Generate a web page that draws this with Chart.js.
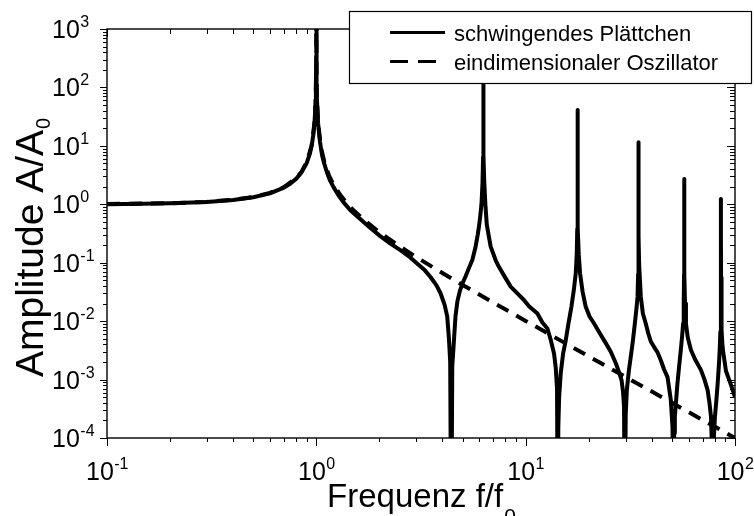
<!DOCTYPE html>
<html>
<head>
<meta charset="utf-8">
<title>Amplitude A/A0</title>
<script src="https://cdn.jsdelivr.net/npm/chart.js@4.4.1/dist/chart.umd.min.js"></script>
<style>
  html, body { margin: 0; padding: 0; background: #fff; }
  #wrap { width: 754px; height: 516px; }
</style>
</head>
<body>
<div id="wrap"><canvas id="chart" width="754" height="516"></canvas></div>
<script>
// Values (f/f0 and A/A0)
var plateFreq = [
  0.1, 0.15, 0.2, 0.3, 0.4, 0.5, 0.6, 0.7, 0.75, 0.8, 0.85, 0.9, 0.93, 0.95, 0.97, 0.98, 0.99, 0.995, 0.998, 1.0,
  1.002, 1.005, 1.01, 1.02, 1.04, 1.065, 1.09, 1.124, 1.16, 1.21, 1.28, 1.35, 1.45, 1.62, 1.8, 2.02, 2.25, 2.52,
  2.8, 3.03, 3.3, 3.51, 3.75, 3.92, 4.1, 4.22, 4.3, 4.36, 4.41,
  4.46, 4.52, 4.62, 4.72, 4.85, 5.0, 5.16, 5.35, 5.56, 5.75, 5.9, 5.98, 6.06, 6.15, 6.22, 6.26, 6.275, 6.28,
  6.285, 6.3, 6.34, 6.42, 6.52, 6.8, 7.19, 7.45, 8.0, 8.48, 9.2, 9.81, 10.37, 11.38, 12.02, 12.7, 13.17, 13.66,
  13.92, 14.12, 14.22, 14.27,
  14.32, 14.45, 14.71, 15.1, 15.54, 16.0, 16.54, 17.0, 17.35, 17.54, 17.64, 17.69, 17.7,
  17.71, 17.78, 17.93, 18.19, 18.7, 19.36, 20.2, 21.22, 22.6, 24.14, 25.5, 26.96, 28.0, 28.71, 29.2, 29.51, 29.8,
  30.05, 30.43, 31.1, 31.8, 32.5, 33.23, 33.8, 34.23, 34.45, 34.56, 34.59, 34.6,
  34.61, 34.68, 34.85, 35.5, 36.3, 37.5, 38.5, 39.6, 41.1, 42.7, 44.3, 45.8, 47.6, 49.35, 50.3, 50.8,
  51.2, 51.6, 53.1, 54.1, 55.1, 56.0, 56.5, 56.9, 57.1, 57.18, 57.2,
  57.22, 57.35, 57.7, 58.3, 59.5, 61.6, 64.5, 68.8, 71.5, 74.0, 75.5, 76.8, 77.5, 77.9,
  78.4, 80.2, 81.5, 82.65, 83.7, 84.5, 85.1, 85.45, 85.62, 85.68, 85.7,
  85.72, 85.8, 86.0, 86.5, 87.3, 88.9, 90.55, 93.9, 97, 100
];
var plateAmp = [
  1.0, 1.02, 1.04, 1.09, 1.18, 1.32, 1.54, 1.93, 2.25, 2.72, 3.55, 5.1, 7.2, 10, 16.5, 24.5, 49, 97, 240, 3000,
  240, 97, 48, 24, 12, 6.9, 5.0, 3.5, 2.6, 1.95, 1.4, 1.08, 0.8, 0.56, 0.4, 0.285, 0.215, 0.164,
  0.124, 0.097, 0.074, 0.057, 0.041, 0.03, 0.019, 0.012, 0.005, 0.002, 0.000001,
  0.0017, 0.0035, 0.012, 0.022, 0.033, 0.045, 0.058, 0.08, 0.111, 0.18, 0.3, 0.41, 0.6, 1.0, 2.3, 6.5, 26, 600,
  28, 7, 2.5, 1.0, 0.45, 0.19, 0.11, 0.085, 0.055, 0.039, 0.029, 0.023, 0.018, 0.0135, 0.0095, 0.0075, 0.0048, 0.0028,
  0.0016, 0.0007, 0.0002, 0.000001,
  0.00015, 0.0005, 0.0013, 0.0028, 0.0047, 0.009, 0.0176, 0.035, 0.066, 0.14, 0.38, 2.3, 41,
  3.2, 0.4, 0.14, 0.066, 0.032, 0.0176, 0.012, 0.0091, 0.0062, 0.0042, 0.003, 0.0019, 0.0013, 0.00098, 0.0006, 0.00034, 0.000001,
  0.00025, 0.00066, 0.0014, 0.0025, 0.0045, 0.0091, 0.016, 0.026, 0.064, 0.24, 1.0, 11.5,
  2.3, 0.29, 0.09, 0.026, 0.0135, 0.009, 0.0062, 0.0045, 0.0036, 0.0029, 0.0021, 0.0015, 0.0011, 0.00045, 0.00015, 0.000001,
  0.00012, 0.00023, 0.00086, 0.0017, 0.0032, 0.006, 0.0091, 0.021, 0.064, 0.32, 2.7,
  0.5, 0.067, 0.02, 0.0091, 0.0052, 0.0032, 0.0022, 0.00145, 0.001, 0.00066, 0.0004, 0.00023, 0.00008, 0.000001,
  0.00005, 0.00023, 0.00045, 0.00086, 0.0017, 0.0032, 0.0065, 0.015, 0.05, 0.2, 1.23,
  0.28, 0.056, 0.019, 0.007, 0.0035, 0.0022, 0.0014, 0.00098, 0.0007, 0.0005
];
var oscFreq = [
  0.1, 0.2, 0.3, 0.4, 0.5, 0.6, 0.7, 0.8, 0.85, 0.9, 0.95, 0.98, 0.99, 0.995, 0.998, 1.0,
  1.002, 1.005, 1.01, 1.02, 1.05, 1.1, 1.15, 1.2, 1.3, 1.4, 1.5, 1.7, 2, 2.5, 3, 4, 5, 7, 10, 15, 20, 30, 50, 70, 100
];
var oscAmp = [
  1.0101, 1.0417, 1.0989, 1.1905, 1.3333, 1.5625, 1.9608, 2.7778, 3.604, 5.263, 10.26, 25.25, 50.25, 100.25, 250.25, 5000,
  249.75, 99.75, 49.75, 24.75, 9.756, 4.762, 3.101, 2.273, 1.449, 1.042, 0.8, 0.529, 0.3333, 0.1905, 0.125, 0.0667,
  0.0417, 0.0208, 0.0101, 0.00446, 0.0025, 0.00111, 0.0004, 0.000204, 0.0001
];
var xTickExp = [-1, 0, 1, 2];
var yTickExp = [-4, -3, -2, -1, 0, 1, 2, 3];
var legendLabels = ['schwingendes Plättchen', 'eindimensionaler Oszillator'];
var xTitle = 'Frequenz f/f';
var yTitle = 'Amplitude A/A';
var titleSub = '0';

var FONT = '"Liberation Sans", Arial, Helvetica, sans-serif';

function toPoints(xs, ys) {
  return xs.map(function (x, i) { return { x: x, y: ys[i] }; });
}

// "10" with a raised exponent; x is the left edge or the centre
function drawPow(ctx, x, y, exp, centre) {
  var sup = String(exp);
  ctx.font = '25px ' + FONT;
  var wb = ctx.measureText('10').width;
  ctx.font = '16px ' + FONT;
  var ws = ctx.measureText(sup).width;
  var x0 = centre ? x - (wb + ws) / 2 : x;
  ctx.font = '25px ' + FONT;
  ctx.fillText('10', x0, y);
  ctx.font = '16px ' + FONT;
  ctx.fillText(sup, x0 + wb + 0.5, y - 11);
}

var axesPlugin = {
  id: 'axesPlugin',
  afterDatasetsDraw: function (chart) {
    var ctx = chart.ctx, a = chart.chartArea;
    var xs = chart.scales.x, ys = chart.scales.y;
    ctx.save();
    ctx.strokeStyle = '#000';
    ctx.fillStyle = '#000';
    ctx.lineWidth = 1.4;
    ctx.strokeRect(a.left, a.top, a.right - a.left, a.bottom - a.top);

    // tick marks: bottom/left outward, top/right inward
    ctx.lineWidth = 1;
    ctx.beginPath();
    xTickExp.forEach(function (e) {
      var dec = Math.pow(10, e);
      for (var k = 1; k <= 9; k++) {
        var v = k * dec;
        if (v > xs.max * 1.0001) break;
        var px = Math.round(xs.getPixelForValue(v)) + 0.5;
        ctx.moveTo(px, a.bottom); ctx.lineTo(px, a.bottom + (k === 1 ? 8 : 4));
        ctx.moveTo(px, a.top); ctx.lineTo(px, a.top + (k === 1 ? 8 : 5));
      }
    });
    yTickExp.forEach(function (e) {
      var dec = Math.pow(10, e);
      for (var k = 1; k <= 9; k++) {
        var v = k * dec;
        if (v > ys.max * 1.0001) break;
        var py = Math.round(ys.getPixelForValue(v)) + 0.5;
        ctx.moveTo(a.left, py); ctx.lineTo(a.left - (k === 1 ? 7 : 4), py);
        ctx.moveTo(a.right, py); ctx.lineTo(a.right - (k === 1 ? 8 : 5), py);
      }
    });
    ctx.stroke();

    // tick labels
    ctx.textAlign = 'left';
    ctx.textBaseline = 'alphabetic';
    xTickExp.forEach(function (e) {
      drawPow(ctx, xs.getPixelForValue(Math.pow(10, e)), a.bottom + 42, e, true);
    });
    yTickExp.forEach(function (e) {
      drawPow(ctx, 52, ys.getPixelForValue(Math.pow(10, e)) + 9, e, false);
    });

    // x title
    ctx.font = '33px ' + FONT;
    var wm = ctx.measureText(xTitle).width;
    ctx.font = '21px ' + FONT;
    var wsub = ctx.measureText(titleSub).width;
    var tx = (a.left + a.right) / 2 - (wm + wsub) / 2;
    ctx.font = '33px ' + FONT;
    ctx.fillText(xTitle, tx, 507);
    ctx.font = '21px ' + FONT;
    ctx.fillText(titleSub, tx + wm + 1, 523);

    // y title
    ctx.translate(43, 377);
    ctx.rotate(-Math.PI / 2);
    ctx.font = '39px ' + FONT;
    var wy = ctx.measureText(yTitle).width;
    ctx.fillText(yTitle, 0, 0);
    ctx.font = '20px ' + FONT;
    ctx.fillText(titleSub, wy + 1, 7);
    ctx.restore();
  }
};

var legendPlugin = {
  id: 'legendPlugin',
  afterDraw: function (chart) {
    var ctx = chart.ctx;
    ctx.save();
    ctx.fillStyle = '#fff';
    ctx.fillRect(349.5, 11.5, 402, 72);
    ctx.strokeStyle = '#000';
    ctx.lineWidth = 1.2;
    ctx.strokeRect(349.5, 11.5, 402, 72);

    ctx.lineWidth = 3;
    ctx.beginPath();
    ctx.moveTo(390, 32.5); ctx.lineTo(445, 32.5);
    ctx.stroke();
    ctx.setLineDash([18, 10]);
    ctx.beginPath();
    ctx.moveTo(390, 61.5); ctx.lineTo(445, 61.5);
    ctx.stroke();
    ctx.setLineDash([]);

    ctx.fillStyle = '#000';
    ctx.font = '22px ' + FONT;
    ctx.textAlign = 'left';
    ctx.textBaseline = 'alphabetic';
    ctx.fillText(legendLabels[0], 454, 41);
    ctx.fillText(legendLabels[1], 454, 69.5);
    ctx.restore();
  }
};

new Chart(document.getElementById('chart'), {
  type: 'line',
  data: {
    datasets: [
      {
        label: legendLabels[0],
        data: toPoints(plateFreq, plateAmp),
        borderColor: '#000',
        borderWidth: 4,
        borderJoinStyle: 'round',
        pointRadius: 0,
        tension: 0,
        clip: 0,
        order: 2
      },
      {
        label: legendLabels[1],
        data: toPoints(oscFreq, oscAmp),
        borderColor: '#000',
        borderWidth: 4,
        borderDash: [13, 9],
        pointRadius: 0,
        tension: 0,
        clip: 0,
        order: 1
      }
    ]
  },
  options: {
    responsive: false,
    animation: false,
    devicePixelRatio: 1,
    layout: { padding: { left: 107, top: 29, right: 19, bottom: 78 } },
    plugins: {
      legend: { display: false },
      tooltip: { enabled: false }
    },
    scales: {
      x: { type: 'logarithmic', min: 0.1, max: 100, display: false },
      y: { type: 'logarithmic', min: 1e-4, max: 1e3, display: false }
    }
  },
  plugins: [axesPlugin, legendPlugin]
});
</script>
</body>
</html>
